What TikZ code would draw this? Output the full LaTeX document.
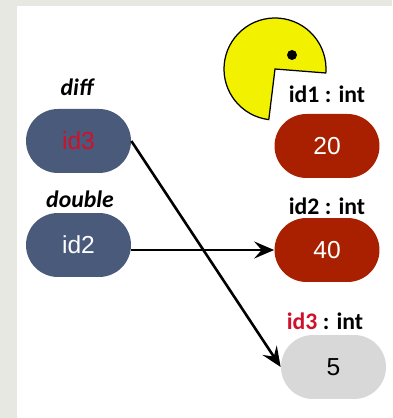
\documentclass[tikz,border=0pt]{standalone}
\usepackage{fontspec}
\setmainfont{Liberation Sans}
\newfontfamily\labelfont{Carlito}
\usetikzlibrary{arrows.meta,shapes.misc}
\definecolor{pageframe}{HTML}{E8E8E2}
\definecolor{refblue}{HTML}{4A5A7B}
\definecolor{valred}{HTML}{A82000}
\definecolor{valgrey}{HTML}{D8D8D8}
\definecolor{idred}{HTML}{D0102A}
\definecolor{pacyellow}{HTML}{F2F200}
\tikzset{
	pill/.style={shape=rounded rectangle,minimum width=2.1cm,minimum height=1.28cm,inner sep=0pt,font=\fontsize{14}{14}\selectfont},
	typelabel/.style={font=\labelfont\bfseries\fontsize{13.5}{14}\selectfont,inner sep=0pt},
	varlabel/.style={font=\labelfont\bfseries\itshape\fontsize{13.5}{14}\selectfont,inner sep=0pt},
	pointer/.style={line width=0.52mm,-{Stealth[length=4mm,width=3.4mm,inset=1.5mm]}}
}
\begin{document}
\begin{tikzpicture}[x=0.02cm,y=0.02cm]
	
	\useasboundingbox (0,0) rectangle (392,418);
	\fill[pageframe] (0,0) rectangle (392,418);
	\fill[white] (17,0) rectangle (392,412);
	
	\draw[line width = 0.25mm,fill=pacyellow] (275,349) -- ++(-4.5:51) arc[start angle=-4.5,end angle=263,radius=51] -- cycle;
	\fill (292,363) circle (5);
	
	\node[varlabel] (difflabel) at (77,331) {diff};
	\node[varlabel] (doublelabel) at (80,219) {double};
	\node[typelabel] (idonelabel) at (327,324) {id1 : int};
	\node[typelabel] (idtwolabel) at (327,212) {id2 : int};
	\node[typelabel] (idthreelabel) at (325,97) {\textcolor{idred}{id3} : int};
	
	\node[pill,fill=refblue,text=idred] (diff) at (78.5,277) {id3};
	\node[pill,fill=refblue,text=white] (double) at (78.5,173) {id2};
	\node[pill,fill=valred,text=white] (valone) at (327,272) {20};
	\node[pill,fill=valred,text=white] (valtwo) at (327,168) {40};
	\node[pill,fill=valgrey] (valthree) at (333.5,51) {5};
	
	\draw[pointer] (diff.east) -- (valthree.west);
	\draw[pointer] (double.east |- valtwo.west) -- (valtwo.west);
	
\end{tikzpicture}
\end{document}
